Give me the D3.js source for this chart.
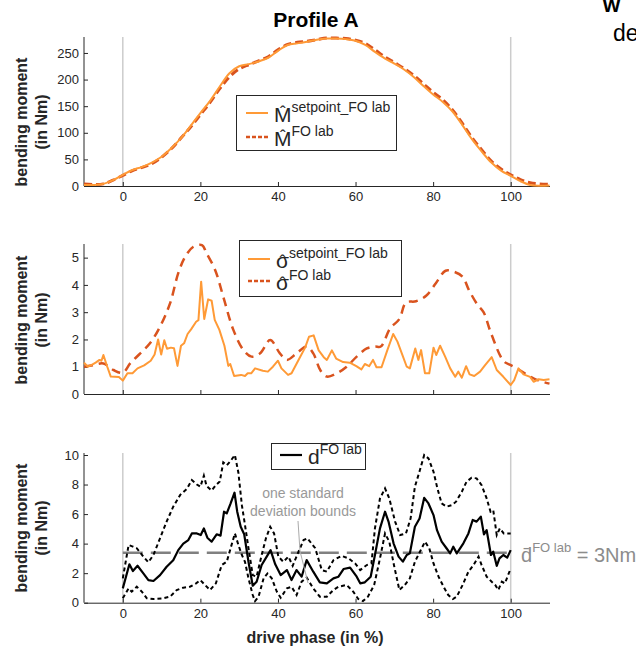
<!DOCTYPE html>
<html>
<head>
<meta charset="utf-8">
<script src="https://cdn.jsdelivr.net/npm/d3@7"></script>
<style>
  body { margin: 0; background: #fff; }
  svg { font-family: "Liberation Sans", Arial, sans-serif; }
  .tick text { font-size: 13px; fill: #262626; }
  .tick line, .domain { stroke: #262626; }
</style>
</head>
<body>
<svg id="chart" width="636" height="652"></svg>
<script>
// phase grid for the top panel (in %)
const phaseM = [-10, -7.5, -5, -2.5, 0, 2.5, 5, 7.5, 10, 12.5, 15, 17.5, 20, 22.5, 25, 27.5, 30, 32.5, 35, 37.5,
  40, 42.5, 45, 47.5, 50, 52.5, 55, 57.5, 60, 62.5, 65, 67.5, 70, 72.5, 75, 77.5, 80, 82.5, 85, 87.5,
  90, 92.5, 95, 97.5, 100, 102.5, 105, 107.5, 110];
const mSetpoint = [2, 2, 4, 11, 21, 30, 36, 44, 55, 71, 90, 113, 137, 160, 187, 212, 225, 229, 234, 241,
  254, 265, 268, 271, 275, 277, 277, 276, 273, 265, 252, 240, 230, 219, 205, 188, 172, 158, 140, 115,
  88, 65, 44, 29, 19, 9, 2, 0.5, 1];
const mFoLab = [4, 3, 4, 11, 20, 29, 35, 42, 54, 70, 90, 111, 134, 157, 183, 205, 220, 228, 235, 243,
  256, 266, 270, 272, 275, 278, 278, 277, 274, 268, 256, 243, 232, 221, 208, 192, 176, 162, 143, 118,
  91, 68, 47, 32, 21, 12, 6, 4, 3];

// sigma panel, [phase, value]
const sigmaSetpoint = [[-10,1.15],[-9,1.0],[-8,1.07],[-7,1.15],[-6,1.25],[-5.5,1.22],[-5,1.43],[-4,1.0],[-3.1,0.64],[-1,0.62],
  [0,0.49],[1.2,0.76],[2.5,0.76],[3.8,0.94],[5.5,1.05],[7.2,1.22],[8.2,1.45],[9.1,2.0],[9.9,1.45],[10.7,1.97],
  [11.4,1.66],[12.4,1.7],[13.2,1.68],[14.1,1.03],[15,1.77],[15.8,1.86],[16.7,2.2],[17.6,2.37],[18.9,2.65],[19.5,2.71],
  [20.2,4.12],[21,2.75],[22,3.47],[22.9,3.42],[23.7,2.72],[24.9,2.35],[26.2,1.77],[27.2,1.03],[27.7,1.1],[28.7,0.66],
  [30.5,0.7],[31.5,0.66],[32.2,0.76],[33.1,0.76],[34.1,0.94],[36.1,0.85],[37.4,0.82],[38.7,1.0],[40,1.22],[40.9,0.94],
  [42.6,0.7],[43.5,0.76],[45.2,1.22],[47,1.7],[48,2.1],[49.2,2.15],[50.5,1.6],[51.8,1.35],[52.6,1.25],[53.9,1.6],
  [55,1.3],[56.8,1.17],[58.5,1.15],[60.2,1.02],[61.5,0.9],[62.4,1.1],[63.5,1.02],[64.5,1.25],[65.4,0.98],[66.7,0.98],
  [68.2,1.61],[69.7,2.2],[70.8,1.92],[71.9,1.5],[73.2,1.0],[74,0.94],[75.4,1.67],[76.2,1.25],[76.9,1.61],[77.9,0.76],
  [79,0.76],[80.1,1.7],[80.8,1.43],[81.8,1.77],[83.1,1.37],[84.4,0.94],[85.7,0.63],[86.5,0.82],[87.4,0.6],[88.5,1.02],
  [89.4,0.72],[90.6,0.66],[92.1,0.82],[93.4,1.06],[95.1,1.35],[96.4,0.88],[98.1,0.63],[100,0.33],[100.9,0.51],[102,0.94],
  [103.3,0.72],[105,0.63],[105.9,0.45],[107.2,0.54],[108.5,0.51],[110,0.54]];
const sigmaFoLab = [[-10,1.0],[-7.6,1.06],[-5,1.12],[-2.4,0.88],[0,0.78],[1.9,1.12],[4.5,1.49],[7,1.86],[9.6,2.47],[12.2,3.33],
  [14.3,4.43],[16.1,5.04],[18.2,5.4],[20.4,5.46],[21.6,5.16],[23.8,4.55],[25.9,3.57],[28.5,2.35],[31.1,1.61],[33.2,1.37],
  [35.4,1.49],[38,1.98],[40.5,1.49],[42.3,1.25],[44.8,1.49],[47.4,1.74],[49.1,1.49],[50.9,0.88],[52.6,0.64],[55.2,0.76],
  [57.7,1.0],[60.3,1.37],[62.9,1.67],[65,1.74],[66.5,1.74],[68.9,2.4],[71.3,2.75],[73,3.35],[75.6,3.4],[78.2,3.6],
  [80.7,4.06],[83.2,4.52],[85.4,4.48],[87.6,4.3],[89.2,3.82],[91.5,3.26],[93,3.0],[95,2.2],[98.2,1.2],[100,1.06],
  [101.5,0.94],[104.1,0.72],[106.7,0.52],[110,0.38]];

// deviation panel, [phase, value]
const dMean = [[0,0.97],[1.7,2.6],[2.6,2.14],[3.8,2.5],[5.3,1.99],[6.6,1.53],[7.9,1.47],[9.6,1.87],[11.3,2.43],[13,2.88],
  [14.3,3.56],[15.6,4.0],[16.9,4.24],[17.8,4.69],[19.1,4.69],[20.1,4.58],[20.9,5.03],[21.8,4.4],[22.9,4.13],[24.2,4.63],
  [25.2,4.54],[26.1,6.16],[26.8,6.05],[27.8,6.72],[28.8,7.45],[29.5,6.16],[30.4,5.14],[31.3,4.63],[32.4,2.77],[33.5,1.15],
  [34.5,1.42],[35.8,2.55],[37.1,3.12],[38.1,3.56],[39.3,2.6],[40.7,1.87],[42.3,2.21],[43.5,1.53],[44.8,2.21],[46.1,1.76],
  [47.4,2.88],[49.1,2.1],[50.8,1.38],[52.6,1.31],[54.3,1.65],[55.6,1.76],[56.9,2.28],[58.6,2.37],[60.3,1.76],[61.2,1.31],
  [62.4,1.38],[63.9,1.76],[65,3.23],[66.3,5.03],[67.6,6.16],[68.5,5.49],[69.8,4.02],[71.1,3.12],[72.2,2.78],[73.2,3.23],
  [74,3.34],[75.3,5.14],[76.5,5.7],[77.7,7.1],[78.8,6.72],[80.1,5.93],[81,4.91],[82.2,4.13],[83.5,3.67],[84.4,3.34],
  [85.2,3.79],[86.1,3.34],[87.8,4.02],[89.1,4.69],[90.2,5.6],[91.2,5.49],[92.3,5.83],[93.1,4.63],[93.8,4.91],[94.9,3.23],
  [95.5,3.45],[96.4,2.5],[97.1,3.0],[98.1,3.23],[99.1,3.05],[100,3.56]];
const dUpper = [[0,1.65],[1.5,3.91],[2.6,3.8],[3.6,3.69],[5.3,3.12],[6.6,2.74],[7.9,3.23],[9.6,4.36],[11.3,5.49],[13,6.5],
  [14.8,7.3],[16.5,7.7],[17.8,8.3],[19.1,8.0],[20,7.85],[20.9,8.6],[21.6,7.9],[22.9,7.6],[24,7.96],[25,8.2],
  [25.9,9.5],[26.8,9.3],[27.8,9.6],[28.9,10.0],[29.8,8.8],[30.7,6.6],[31.5,5.26],[32.4,3.69],[33.5,1.87],[34.5,1.76],
  [35.8,3.23],[36.9,4.36],[38,5.14],[39,4.69],[40.1,3.12],[41.4,2.77],[42.7,3.12],[43.8,2.5],[45.3,3.45],[46.6,4.24],
  [47.6,4.36],[49.6,3.69],[51.3,2.21],[52.6,2.1],[54.3,2.88],[56.4,3.17],[58.2,3.0],[59.9,2.66],[61.2,2.21],[62.9,2.55],
  [64.1,2.66],[65,5.03],[66.3,7.06],[67.6,7.74],[68.7,7.06],[70.2,5.49],[71.5,4.58],[73,4.69],[74.2,5.71],[75.3,7.85],
  [76.6,8.98],[77.7,10.0],[78.8,9.77],[80.1,8.87],[81.1,7.74],[82.2,6.72],[83.5,6.5],[84.8,6.61],[85.9,6.84],[87.4,7.51],
  [88.6,8.19],[89.9,8.46],[91.2,8.42],[92.5,7.96],[93.8,7.06],[94.8,6.16],[95.5,6.27],[96.4,4.58],[97.2,5.03],[98.2,4.69],
  [100,4.69]];
const dLower = [[0,0.3],[1.5,0.97],[2.3,0.75],[3.6,1.08],[4.9,0.75],[6.2,0.3],[7.9,0.25],[10.5,0.3],[12.2,0.41],[13.9,0.86],
  [15.6,1.02],[17.3,1.08],[18.9,1.31],[20,1.53],[21.2,1.2],[22.5,0.86],[24,1.31],[25.5,2.55],[26.8,2.77],[27.8,3.69],
  [28.9,4.69],[29.8,3.91],[30.7,3.23],[31.5,2.77],[32.4,1.65],[33.5,0.52],[34.1,0.11],[35,0.41],[36.3,1.65],[37.3,1.98],
  [38.4,1.65],[39.7,0.75],[40.7,0.34],[42.3,0.97],[43.5,1.08],[44.8,0.52],[46.1,1.42],[47.4,1.7],[49.1,0.97],[50.8,0.41],
  [52.6,0.41],[54.3,0.86],[55.6,1.08],[57.7,1.2],[59.4,0.75],[60.7,0.25],[61.9,0.11],[63.2,0.41],[64.8,1.2],[66.3,3.0],
  [67.6,4.69],[68.7,4.13],[69.9,2.55],[71.3,0.86],[72.7,1.2],[74,1.65],[75.3,2.77],[76.6,3.45],[77.9,4.13],[79,3.69],
  [80.1,2.66],[81.4,1.76],[82.7,1.08],[83.9,0.52],[85.1,0.25],[86.1,0.41],[87.6,1.2],[89.1,2.1],[90.4,2.55],[91.7,3.12],
  [92.5,2.55],[93.8,1.76],[95.1,1.42],[96,1.2],[96.8,0.86],[97.7,1.42],[98.5,1.31],[100,2.32]];
const dMeanValue = 3.38;

const xTicks = [0, 20, 40, 60, 80, 100];
const mTicks = [0, 50, 100, 150, 200, 250];
const sigmaTicks = [0, 1, 2, 3, 4, 5];
const dTicks = [0, 2, 4, 6, 8, 10];

const orangeLight = "#ff9a36";
const orangeDark = "#d9531e";
const svg = d3.select("#chart");

const x = d3.scaleLinear().domain([-10, 110]).range([84, 549.5]);
const yM = d3.scaleLinear().domain([0, 280]).range([186, 37]);
const yS = d3.scaleLinear().domain([0, 5.5]).range([394, 244]);
const yD = d3.scaleLinear().domain([0, 10]).range([602.7, 455]);

function drawAxes(y, ticks, showXLabels, yTop) {
  // grey guide lines at 0 % and 100 %
  svg.selectAll(null).data([0, 100]).enter().append("line")
    .attr("x1", d => x(d)).attr("x2", d => x(d))
    .attr("y1", yTop).attr("y2", y(0))
    .attr("stroke", "#cccccc").attr("stroke-width", 1.5);

  svg.append("g")
    .attr("transform", `translate(0,${y(0)})`)
    .call(d3.axisBottom(x).tickValues(xTicks).tickSizeInner(-4).tickSizeOuter(0).tickPadding(6)
      .tickFormat(showXLabels ? d3.format("d") : ""));

  svg.append("g")
    .attr("transform", `translate(${x(-10)},0)`)
    .call(d3.axisLeft(y).tickValues(ticks).tickSizeInner(-4).tickSizeOuter(0).tickPadding(5)
      .tickFormat(d3.format("d")))
    .select(".domain").attr("d", `M0,${yTop}V${y(0)}`);
}

function yLabel(cy) {
  const g = svg.append("g").attr("transform", `translate(27,${cy}) rotate(-90)`)
    .style("font-weight", "bold").style("font-size", "16px").attr("fill", "#262626")
    .attr("text-anchor", "middle");
  g.append("text").attr("x", 0).attr("y", 0).text("bending moment");
  g.append("text").attr("x", 0).attr("y", 20).text("(in Nm)");
}

// legend entry: sample line, base symbol (optionally hatted) and superscript
function legendRow(g, lx, ly, color, dash, width, base, sup, hatDy) {
  g.append("line").attr("x1", lx).attr("x2", lx + 22).attr("y1", ly).attr("y2", ly)
    .attr("stroke", color).attr("stroke-width", width).attr("stroke-dasharray", dash);
  const bx = lx + 28, by = ly + 9;
  const t = g.append("text").attr("x", bx).attr("y", by).attr("fill", "#262626")
    .style("font-size", "21px");
  const b = t.append("tspan").text(base);
  t.append("tspan").attr("dy", -10).style("font-size", "14px").text(sup);
  if (hatDy != null) {
    const w = b.node().getComputedTextLength();
    g.append("text").attr("x", bx + w / 2).attr("y", by + hatDy).attr("text-anchor", "middle")
      .attr("fill", "#262626").style("font-size", "17px").text("\u02C6");
  }
}

// title + clipped neighbour text
svg.append("text").attr("x", 316).attr("y", 27).attr("text-anchor", "middle")
  .style("font-weight", "bold").style("font-size", "21px").attr("fill", "#000").text("Profile A");
svg.append("text").attr("x", 603).attr("y", 12).style("font-weight", "bold").style("font-size", "22px")
  .attr("fill", "#000").text("w");
svg.append("text").attr("x", 613).attr("y", 41).style("font-size", "23px").attr("fill", "#000").text("de");

const lineM = d3.line().x((d, i) => x(phaseM[i])).y(d => yM(d)).curve(d3.curveCatmullRom);
const lineS = d3.line().x(d => x(d[0])).y(d => yS(d[1]));
const lineSmooth = d3.line().x(d => x(d[0])).y(d => yS(d[1])).curve(d3.curveCatmullRom);
const lineD = d3.line().x(d => x(d[0])).y(d => yD(d[1]));

// ---- top panel: bending moment
drawAxes(yM, mTicks, true, 37);
svg.append("path").datum(mFoLab).attr("d", lineM).attr("fill", "none")
  .attr("stroke", orangeDark).attr("stroke-width", 3).attr("stroke-dasharray", "8,4");
svg.append("path").datum(mSetpoint).attr("d", lineM).attr("fill", "none")
  .attr("stroke", orangeLight).attr("stroke-width", 2);
yLabel(122);

const legM = svg.append("g");
legM.append("rect").attr("x", 236.5).attr("y", 95.5).attr("width", 160).attr("height", 55)
  .attr("fill", "#fff").attr("stroke", "#262626");
legendRow(legM, 246, 113, orangeLight, null, 2, "M", "setpoint_FO lab", -4);
legendRow(legM, 246, 137, orangeDark, "4,2", 2.5, "M", "FO lab", -4);

// ---- middle panel: standard deviation
drawAxes(yS, sigmaTicks, false, 244);
svg.append("path").datum(sigmaFoLab).attr("d", lineSmooth).attr("fill", "none")
  .attr("stroke", orangeDark).attr("stroke-width", 2.5).attr("stroke-dasharray", "9,6");
svg.append("path").datum(sigmaSetpoint).attr("d", lineS).attr("fill", "none")
  .attr("stroke", orangeLight).attr("stroke-width", 2).attr("stroke-linejoin", "round");
yLabel(320);

const legS = svg.append("g");
legS.append("rect").attr("x", 239.5).attr("y", 240.5).attr("width", 162).attr("height", 56)
  .attr("fill", "#fff").attr("stroke", "#262626");
legendRow(legS, 248, 259, orangeLight, null, 2, "\u03C3", "setpoint_FO lab", -1.5);
legendRow(legS, 248, 281, orangeDark, "4,2", 2.5, "\u03C3", "FO lab", -1.5);

// ---- bottom panel: deviation
drawAxes(yD, dTicks, true, 453);
svg.append("line").attr("x1", x(0)).attr("x2", x(100))
  .attr("y1", yD(dMeanValue)).attr("y2", yD(dMeanValue))
  .attr("stroke", "#808080").attr("stroke-width", 2.5).attr("stroke-dasharray", "20,8");
[dUpper, dLower].forEach(s => {
  svg.append("path").datum(s).attr("d", lineD).attr("fill", "none")
    .attr("stroke", "#000").attr("stroke-width", 2).attr("stroke-dasharray", "4,3");
});
svg.append("path").datum(dMean).attr("d", lineD).attr("fill", "none")
  .attr("stroke", "#000").attr("stroke-width", 2.2).attr("stroke-linejoin", "round");
yLabel(528);

// annotation
svg.append("text").attr("x", 303).attr("y", 498).attr("text-anchor", "middle")
  .style("font-size", "14px").attr("fill", "#999").text("one standard");
svg.append("text").attr("x", 303).attr("y", 516).attr("text-anchor", "middle")
  .style("font-size", "14px").attr("fill", "#999").text("deviation bounds");
svg.append("line").attr("x1", 298).attr("y1", 521).attr("x2", 300).attr("y2", 551)
  .attr("stroke", "#aaa").attr("stroke-width", 1);
svg.append("line").attr("x1", 300).attr("y1", 551).attr("x2", 308).attr("y2", 583)
  .attr("stroke", "#aaa").attr("stroke-width", 1);

const mt = svg.append("text").attr("x", 521).attr("y", 562).attr("fill", "#8c8c8c").style("font-size", "20px");
mt.append("tspan").text("d\u0304");
mt.append("tspan").attr("dy", -10).style("font-size", "13px").text("FO lab");
mt.append("tspan").attr("dy", 10).text(" = 3Nm");

const legD = svg.append("g");
legD.append("rect").attr("x", 271.5).attr("y", 443.5).attr("width", 94).attr("height", 26)
  .attr("fill", "#fff").attr("stroke", "#262626");
legendRow(legD, 280, 455, "#000", null, 2.2, "d", "FO lab", null);

svg.append("text").attr("x", 315).attr("y", 643).attr("text-anchor", "middle")
  .style("font-weight", "bold").style("font-size", "16px").attr("fill", "#262626").text("drive phase (in %)");
</script>
</body>
</html>
